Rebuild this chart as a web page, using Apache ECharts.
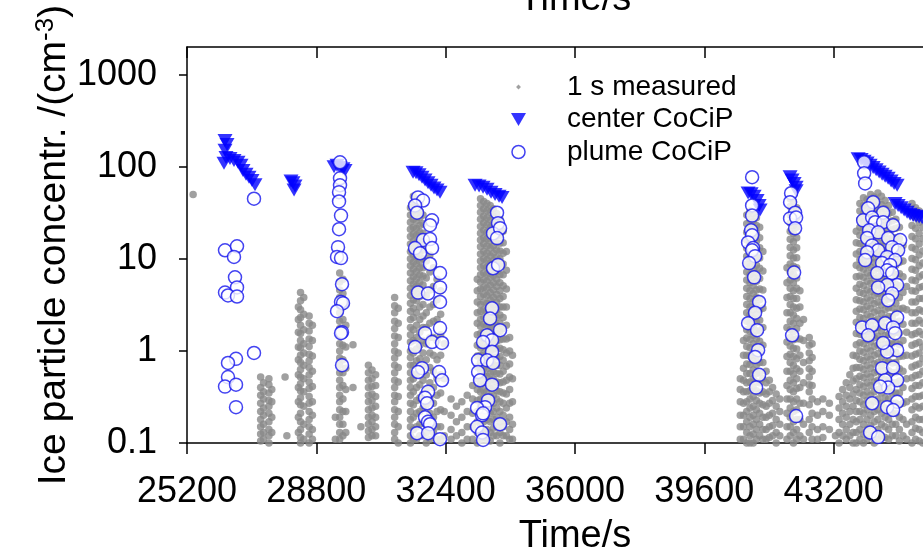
<!DOCTYPE html>
<html>
<head>
<meta charset="utf-8">
<script src="https://cdn.jsdelivr.net/npm/echarts@6/dist/echarts.min.js"></script>
<style>
  html, body { margin: 0; padding: 0; background: #fff; }
  #chart { width: 923px; height: 555px; }
</style>
</head>
<body>
<div id="chart"></div>
<script>
// Axis ticks
const timeTicks = [25200, 28800, 32400, 36000, 39600, 43200, 46800];
const concTicks = [0.1, 1, 10, 100, 1000];
const concMax = 2000;

const seriesNames = ['1 s measured', 'center CoCiP', 'plume CoCiP'];

// 1 s measured ice particle concentration, one row per time bin: [time, value, value, ...]
const measuredSeg1 = [
  [25370, 50],
  [27250, 0.52, 0.4, 0.33, 0.27, 0.22, 0.18, 0.15, 0.125, 0.105],
  [27330, 0.45, 0.36, 0.3, 0.24, 0.2, 0.16, 0.13, 0.11],
  [27480, 0.5, 0.43, 0.35, 0.29, 0.25, 0.21, 0.17, 0.14, 0.12, 0.1],
  [27560, 0.38, 0.28, 0.19, 0.13],
  [27930, 0.52],
  [27980, 0.12],
  [28300, 3.0, 2.2, 1.6, 1.1, 0.8, 0.55, 0.4, 0.28, 0.19, 0.13],
  [28360, 4.3, 3.5, 2.8, 2.3, 1.9, 1.55, 1.3, 1.08, 0.9, 0.75, 0.63, 0.52, 0.44, 0.37, 0.31, 0.26, 0.21, 0.17, 0.14, 0.115, 0.1],
  [28450, 3.8, 2.5, 1.7, 1.2, 0.95, 0.7, 0.5, 0.36, 0.25, 0.16, 0.11],
  [28600, 2.4, 2.0, 1.65, 1.35, 1.12, 0.92, 0.78, 0.66, 0.55, 0.46, 0.39, 0.32, 0.27, 0.22, 0.18, 0.15, 0.125, 0.1],
  [28690, 1.9, 1.3, 0.88, 0.6, 0.41, 0.28, 0.2, 0.14, 0.11],
  [29330, 0.19, 0.11],
  [29450, 7.0, 5.6, 4.6, 3.8, 3.1, 2.6, 2.1, 1.75, 1.45, 1.2, 1.0, 0.84, 0.7, 0.58, 0.48, 0.4, 0.33, 0.28, 0.23, 0.19, 0.16, 0.13, 0.11],
  [29540, 6.0, 4.2, 3.0, 2.2, 1.6, 1.15, 0.8, 0.58, 0.42, 0.3, 0.22, 0.16, 0.12],
  [29620, 3.3, 1.9, 1.1, 0.65, 0.38, 0.22, 0.13],
  [29820, 1.17, 0.4],
  [30040, 0.15],
  [30250, 0.7, 0.58, 0.48, 0.4, 0.33, 0.28, 0.23, 0.19, 0.16, 0.135, 0.115],
  [30350, 0.62, 0.5, 0.41, 0.34, 0.29, 0.24, 0.2, 0.17, 0.14, 0.12],
  [30450, 0.55, 0.42, 0.32, 0.25, 0.19, 0.15, 0.12],
  [30980, 3.8, 3.1, 2.6, 2.1, 1.75, 1.45, 1.2, 1.0, 0.84, 0.7, 0.58, 0.48, 0.4, 0.33, 0.28, 0.23, 0.19, 0.16, 0.13, 0.11],
  [31080, 2.9, 2.0, 1.4, 0.95, 0.66, 0.46, 0.32, 0.22, 0.15, 0.1]
];

const measuredSeg2 = [
  [31420, 36, 30, 25, 21, 17.5, 14.5, 12, 10, 8.4, 7, 5.8, 4.8, 4.0, 3.3, 2.7, 2.2, 1.8, 1.5, 1.25, 1.0, 0.85, 0.7, 0.58, 0.48, 0.4, 0.33, 0.27, 0.22, 0.18, 0.15, 0.12, 0.1],
  [31500, 48, 40, 33, 27, 22, 18.5, 15.5, 13, 11, 9.2, 7.7, 6.4, 5.3, 4.4, 3.6, 2.9, 2.3, 1.7, 1.3, 0.95, 0.7, 0.5, 0.36, 0.26, 0.19, 0.14, 0.11],
  [31590, 44, 37, 31, 26, 21.5, 18, 15, 12.5, 10.5, 8.8, 7.3, 6.1, 5.1, 4.2, 3.5, 2.6, 1.9, 1.4, 1.05, 0.78, 0.56, 0.4, 0.29, 0.21, 0.15, 0.11],
  [31680, 40, 33, 28, 23, 19.5, 16, 13.5, 11.3, 9.5, 8, 6.7, 5.6, 4.7, 3.9, 3.0, 2.2, 1.6, 1.15, 0.82, 0.6, 0.43, 0.31, 0.22, 0.16, 0.12],
  [31770, 30, 24, 19, 15.5, 12.5, 10, 8, 6.5, 5.2, 4.1, 3.2, 2.4, 1.8, 1.3, 0.95, 0.68, 0.48, 0.34, 0.24, 0.17, 0.12],
  [31860, 15, 9.5, 6.2, 4.0, 2.6, 1.8, 1.2, 0.8, 0.55, 0.38, 0.26, 0.18, 0.13, 0.1],
  [31960, 11, 7.2, 4.6, 3.0, 2.0, 1.4, 0.95, 0.66, 0.45, 0.31, 0.21, 0.15, 0.11],
  [32060, 8, 5, 3.2, 2.1, 1.4, 0.9, 0.6, 0.4, 0.27, 0.19, 0.13],
  [32160, 6, 3.6, 2.2, 1.3, 0.8, 0.5, 0.33, 0.22, 0.15, 0.11],
  [32260, 4.5, 2.5, 1.5, 0.9, 0.55, 0.35, 0.23, 0.15, 0.11],
  [32360, 1.2, 0.5, 0.22, 0.12],
  [32550, 0.3, 0.2, 0.14, 0.11],
  [32700, 0.25, 0.17, 0.12],
  [32850, 0.28, 0.19, 0.13, 0.1],
  [33000, 0.33, 0.22, 0.15, 0.11],
  [33150, 0.42, 0.3, 0.21, 0.15, 0.11],
  [33280, 6, 4.5, 3.4, 2.6, 2.0, 1.5, 1.15, 0.88, 0.67, 0.5, 0.38, 0.29, 0.22, 0.17, 0.13, 0.1],
  [33370, 45, 38, 32, 27, 22.5, 19, 16, 13.5, 11.3, 9.5, 8, 6.7, 5.6, 4.7, 3.9, 3.2, 2.7, 2.2, 1.85, 1.55, 1.3, 1.08, 0.9, 0.75, 0.62, 0.52, 0.43, 0.36, 0.3, 0.25, 0.2, 0.16, 0.13, 0.11],
  [33460, 42, 35, 29, 24.5, 20.5, 17, 14.5, 12, 10, 8.4, 7, 5.9, 4.9, 4.1, 3.4, 2.8, 2.35, 1.95, 1.6, 1.35, 1.12, 0.94, 0.78, 0.65, 0.54, 0.45, 0.37, 0.31, 0.26, 0.21, 0.17, 0.14, 0.115],
  [33550, 40, 33.5, 28, 23.5, 19.5, 16.5, 13.8, 11.5, 9.7, 8.1, 6.8, 5.7, 4.8, 4.0, 3.3, 2.75, 2.3, 1.9, 1.58, 1.32, 1.1, 0.92, 0.77, 0.64, 0.53, 0.44, 0.36, 0.29, 0.23, 0.18, 0.14, 0.11],
  [33640, 38, 32, 26.5, 22, 18.5, 15.5, 13, 10.8, 9, 7.5, 6.3, 5.2, 4.3, 3.6, 3.0, 2.5, 2.1, 1.75, 1.45, 1.2, 1.0, 0.83, 0.69, 0.57, 0.47, 0.39, 0.32, 0.26, 0.21, 0.17, 0.13, 0.105],
  [33730, 35, 29, 24, 20, 16.5, 13.8, 11.5, 9.6, 8, 6.6, 5.5, 4.6, 3.8, 3.15, 2.6, 2.15, 1.8, 1.5, 1.25, 1.04, 0.86, 0.71, 0.59, 0.49, 0.4, 0.33, 0.27, 0.22, 0.18, 0.145, 0.12],
  [33820, 31, 26, 21.5, 18, 15, 12.5, 10.4, 8.6, 7.2, 6, 5, 4.1, 3.4, 2.8, 2.3, 1.9, 1.55, 1.28, 1.05, 0.86, 0.7, 0.57, 0.46, 0.37, 0.3, 0.24, 0.19, 0.15, 0.12],
  [33910, 27, 22, 18, 14.8, 12.2, 10, 8.2, 6.7, 5.5, 4.5, 3.7, 3.0, 2.45, 2.0, 1.62, 1.32, 1.07, 0.87, 0.7, 0.56, 0.45, 0.36, 0.28, 0.22, 0.17, 0.13, 0.1],
  [34000, 20, 15, 11.5, 8.8, 6.7, 5.1, 3.9, 3.0, 2.3, 1.75, 1.35, 1.03, 0.79, 0.6, 0.46, 0.35, 0.27, 0.2, 0.15, 0.12],
  [34090, 12, 7.5, 4.7, 3.0, 1.9, 1.35, 0.95, 0.68, 0.48, 0.34, 0.24, 0.17, 0.12],
  [34180, 1.4, 1.0, 0.72, 0.52, 0.38, 0.27, 0.19, 0.14, 0.11],
  [34260, 0.9, 0.5, 0.28, 0.16, 0.11]
];

const measuredSeg3 = [
  [40600, 0.5, 0.38, 0.28, 0.2, 0.15, 0.11],
  [40690, 1.3, 0.9, 0.65, 0.48, 0.36, 0.27, 0.2, 0.15, 0.11],
  [40780, 30, 24, 19.5, 16, 13, 10.7, 8.8, 7.2, 5.9, 4.8, 3.9, 3.2, 2.6, 2.1, 1.7, 1.38, 1.12, 0.9, 0.72, 0.57, 0.45, 0.36, 0.28, 0.22, 0.17, 0.13, 0.1],
  [40870, 33, 27, 22, 18, 14.8, 12.2, 10, 8.2, 6.7, 5.5, 4.5, 3.7, 3.0, 2.45, 2.0, 1.63, 1.33, 1.08, 0.88, 0.71, 0.57, 0.46, 0.37, 0.3, 0.24, 0.19, 0.15, 0.12, 0.1],
  [40960, 31, 25.5, 21, 17.2, 14, 11.5, 9.4, 7.7, 6.3, 5.1, 4.2, 3.4, 2.8, 2.25, 1.83, 1.48, 1.2, 0.97, 0.78, 0.62, 0.5, 0.4, 0.32, 0.25, 0.2, 0.16, 0.125, 0.1],
  [41050, 28, 23, 19, 15.5, 12.7, 10.4, 8.5, 7, 5.7, 4.6, 3.8, 3.1, 2.5, 2.05, 1.66, 1.35, 1.1, 0.88, 0.71, 0.57, 0.46, 0.37, 0.29, 0.23, 0.18, 0.14, 0.11],
  [41140, 22, 17, 13.2, 10.2, 7.9, 6.1, 4.7, 3.6, 2.8, 2.15, 1.65, 1.27, 0.97, 0.75, 0.58, 0.45, 0.35, 0.27, 0.21, 0.16, 0.12],
  [41230, 12, 7.4, 4.6, 2.9, 1.8, 1.15, 0.75, 0.5, 0.36, 0.26, 0.19, 0.14, 0.11],
  [41320, 0.6, 0.45, 0.34, 0.25, 0.19, 0.14, 0.11],
  [41410, 0.48, 0.36, 0.27, 0.2, 0.15, 0.115],
  [41500, 0.4, 0.29, 0.21, 0.155, 0.12],
  [41600, 0.34, 0.25, 0.18, 0.13, 0.1],
  [41700, 0.3, 0.22, 0.16, 0.12],
  [41900, 8, 5.5, 3.8, 2.6, 1.8, 1.25, 0.87, 0.6, 0.42, 0.3, 0.21, 0.15, 0.11],
  [41990, 45, 37, 30, 24.5, 20, 16.3, 13.3, 10.8, 8.8, 7.2, 5.9, 4.8, 3.9, 3.2, 2.6, 2.1, 1.7, 1.4, 1.13, 0.92, 0.75, 0.6, 0.48, 0.38, 0.3, 0.24, 0.19, 0.15, 0.12],
  [42080, 42, 34, 28, 23, 18.8, 15.3, 12.5, 10.2, 8.3, 6.8, 5.5, 4.5, 3.7, 3.0, 2.45, 2.0, 1.62, 1.32, 1.07, 0.87, 0.7, 0.56, 0.45, 0.36, 0.28, 0.22, 0.17, 0.13, 0.1],
  [42170, 36, 28, 22, 17, 13.2, 10.3, 8, 6.2, 4.8, 3.7, 2.9, 2.25, 1.75, 1.36, 1.05, 0.82, 0.64, 0.5, 0.39, 0.3, 0.23, 0.18, 0.14, 0.11],
  [42260, 4.5, 3.0, 2.0, 1.35, 0.9, 0.6, 0.4, 0.27, 0.18, 0.12],
  [42360, 2.2, 1.3, 0.75, 0.45, 0.27, 0.16, 0.11],
  [42520, 1.4, 1.15, 0.95, 0.78, 0.64, 0.52, 0.43, 0.36, 0.26, 0.18, 0.13],
  [42600, 1.2, 0.85, 0.6, 0.42, 0.3, 0.21, 0.15, 0.11],
  [42750, 0.28, 0.2, 0.14, 0.11],
  [42900, 0.3, 0.22, 0.15, 0.115],
  [43080, 0.27, 0.2, 0.14],
  [43250, 0.12],
  [43350, 0.32, 0.24, 0.18, 0.13, 0.1],
  [43450, 0.38, 0.28, 0.21, 0.16, 0.12],
  [43550, 0.45, 0.33, 0.25, 0.19, 0.14, 0.11],
  [43650, 0.55, 0.4, 0.3, 0.22, 0.16, 0.12],
  [43740, 0.9, 0.65, 0.47, 0.34, 0.25, 0.18, 0.13, 0.1]
];

const measuredSeg4 = [
  [43830, 20, 15, 11.3, 8.5, 6.4, 4.8, 3.6, 2.7, 2.05, 1.55, 1.17, 0.88, 0.66, 0.5, 0.38, 0.29, 0.22, 0.17, 0.13, 0.1],
  [43930, 40, 33, 27, 22, 18, 14.7, 12, 9.8, 8, 6.5, 5.3, 4.3, 3.5, 2.85, 2.3, 1.87, 1.52, 1.23, 1.0, 0.81, 0.66, 0.53, 0.43, 0.35, 0.28, 0.22, 0.18, 0.14, 0.11],
  [44030, 46, 38, 31, 25.5, 21, 17.2, 14.1, 11.5, 9.4, 7.7, 6.3, 5.1, 4.2, 3.4, 2.8, 2.25, 1.83, 1.48, 1.2, 0.97, 0.78, 0.63, 0.51, 0.41, 0.33, 0.26, 0.21, 0.16, 0.125, 0.1],
  [44130, 44, 36, 29.5, 24, 19.6, 16, 13, 10.6, 8.6, 7, 5.7, 4.6, 3.75, 3.05, 2.48, 2.0, 1.63, 1.32, 1.07, 0.86, 0.7, 0.56, 0.45, 0.36, 0.29, 0.23, 0.18, 0.14, 0.11],
  [44230, 50, 41, 33.5, 27.5, 22.5, 18.4, 15, 12.2, 10, 8.1, 6.6, 5.4, 4.4, 3.55, 2.9, 2.35, 1.9, 1.54, 1.25, 1.0, 0.81, 0.65, 0.52, 0.42, 0.33, 0.26, 0.2, 0.155, 0.12],
  [44330, 47, 38.5, 31.5, 25.7, 21, 17, 13.9, 11.3, 9.2, 7.5, 6.1, 4.95, 4.0, 3.25, 2.63, 2.13, 1.72, 1.39, 1.12, 0.9, 0.72, 0.58, 0.46, 0.36, 0.28, 0.22, 0.17, 0.13, 0.1],
  [44430, 52, 42, 34, 27.6, 22.4, 18.2, 14.8, 12, 9.7, 7.9, 6.4, 5.2, 4.2, 3.4, 2.75, 2.22, 1.8, 1.45, 1.17, 0.94, 0.75, 0.6, 0.48, 0.38, 0.3, 0.23, 0.18, 0.14, 0.11],
  [44530, 48, 39, 31.8, 25.8, 21, 17, 13.8, 11.2, 9.1, 7.4, 6.0, 4.85, 3.9, 3.15, 2.55, 2.05, 1.65, 1.33, 1.07, 0.86, 0.69, 0.55, 0.44, 0.35, 0.27, 0.21, 0.16, 0.12],
  [44630, 43, 35, 28.5, 23, 18.7, 15.2, 12.3, 10, 8.1, 6.6, 5.35, 4.3, 3.5, 2.8, 2.27, 1.83, 1.47, 1.18, 0.95, 0.76, 0.61, 0.49, 0.39, 0.31, 0.24, 0.19, 0.15, 0.115],
  [44730, 38, 31, 25, 20.3, 16.4, 13.3, 10.7, 8.7, 7, 5.65, 4.55, 3.66, 2.95, 2.37, 1.9, 1.52, 1.22, 0.97, 0.77, 0.61, 0.48, 0.38, 0.3, 0.23, 0.18, 0.14, 0.11],
  [44830, 32, 26, 21, 17, 13.6, 11, 8.8, 7.1, 5.7, 4.6, 3.7, 2.95, 2.35, 1.88, 1.5, 1.19, 0.94, 0.74, 0.58, 0.45, 0.35, 0.27, 0.21, 0.16, 0.12],
  [44930, 27, 21.5, 17, 13.5, 10.7, 8.5, 6.7, 5.3, 4.2, 3.3, 2.6, 2.05, 1.6, 1.25, 0.97, 0.75, 0.58, 0.45, 0.35, 0.27, 0.21, 0.16, 0.12],
  [45030, 22, 16.5, 12.3, 9.2, 6.9, 5.1, 3.8, 2.85, 2.1, 1.57, 1.17, 0.87, 0.64, 0.47, 0.35, 0.26, 0.19, 0.14, 0.105],
  [45130, 14, 9.5, 6.4, 4.3, 2.9, 1.95, 1.3, 0.88, 0.6, 0.4, 0.27, 0.18, 0.12],
  [45230, 5, 2.8, 1.6, 0.9, 0.5, 0.28, 0.16, 0.11],
  [45380, 40, 30, 23, 17.5, 13.3, 10.1, 7.7, 5.9, 4.5, 3.4, 2.6, 2.0, 1.5, 1.15, 0.88, 0.67, 0.51, 0.39, 0.3, 0.23, 0.17, 0.13, 0.1],
  [45480, 36, 28, 21.5, 16.5, 12.7, 9.8, 7.5, 5.8, 4.45, 3.4, 2.6, 2.0, 1.55, 1.2, 0.92, 0.7, 0.54, 0.42, 0.32, 0.25, 0.19, 0.145, 0.11],
  [45580, 33, 25, 19, 14.5, 11, 8.4, 6.4, 4.9, 3.7, 2.8, 2.15, 1.63, 1.24, 0.95, 0.72, 0.55, 0.42, 0.32, 0.24, 0.18, 0.14, 0.105],
  [45680, 30, 22, 16.5, 12.2, 9, 6.7, 5, 3.7, 2.7, 2.0, 1.5, 1.1, 0.82, 0.6, 0.45, 0.33, 0.25, 0.18, 0.13, 0.1]
];

// CoCiP contrail centre concentration: [time, value]
const centerCoCiP = [
  [26258, 193], [26314, 175], [26258, 151], [26286, 126], [26230, 109], [26397, 123], [26508, 117],
  [26620, 112], [26703, 104], [26759, 91], [26843, 83], [26926, 77], [27010, 71], [27093, 64],
  [28095, 70], [28150, 67], [28207, 62], [28180, 56],
  [29293, 100], [29376, 104], [29459, 98], [29543, 95], [29599, 91],
  [31492, 87], [31575, 86], [31659, 82], [31742, 77], [31826, 72], [31909, 67], [31993, 63],
  [32076, 59], [32160, 56], [32243, 53],
  [33218, 63], [33330, 62], [33441, 60], [33552, 57], [33663, 53], [33775, 50], [33886, 48], [33970, 46.5],
  [40818, 52], [40902, 51], [40986, 48], [41069, 43], [41125, 38], [41152, 34],
  [41987, 78], [42043, 72], [42099, 66], [42155, 60], [42155, 55],
  [43881, 122], [43964, 120], [44048, 115], [44131, 110], [44215, 104], [44299, 98], [44382, 93],
  [44466, 88], [44549, 83], [44633, 79], [44716, 75], [44800, 70], [44883, 66], [44967, 63],
  [44911, 40], [44994, 38], [45078, 36], [45162, 34], [45245, 32], [45329, 30.5], [45412, 29.5],
  [45496, 29], [45579, 28.5], [45663, 28]
];

// CoCiP plume concentration: [time, value]
const plumeCoCiP = [
  [27065, 45], [26258, 12.4], [26592, 13.7], [26508, 10.5], [26536, 6.3], [26258, 4.3], [26592, 4.9],
  [26341, 4.0], [26592, 3.9], [26564, 0.82], [26341, 0.74], [27065, 0.95], [26341, 0.52], [26258, 0.41],
  [26564, 0.43], [26564, 0.245],
  [29459, 112], [29459, 75], [29459, 63], [29432, 53], [29432, 42], [29487, 29.5], [29432, 21],
  [29404, 13.4], [29376, 10.5], [29487, 10.2], [29515, 5.3], [29487, 3.4], [29543, 3.3], [29376, 2.7],
  [29515, 1.6], [29487, 1.56], [29515, 0.7],
  [31631, 46.5], [31770, 43], [31548, 38], [31603, 31.7], [32021, 26.2], [31965, 23.2], [31770, 16],
  [31965, 16.4], [32021, 13.1], [31548, 13.1], [31687, 11.5], [31965, 8.8], [32243, 7.0], [32243, 4.9],
  [31631, 4.3], [31909, 4.2], [32243, 3.4], [32243, 1.77], [31826, 1.56], [32021, 1.25], [32299, 1.22],
  [31548, 1.1], [31743, 0.65], [31631, 0.59], [32216, 0.59], [32299, 0.48], [31909, 0.36], [31826, 0.31],
  [31882, 0.27], [31826, 0.19], [31909, 0.17], [31965, 0.16], [31603, 0.128], [31909, 0.128], [32243, 0.11],
  [33830, 31.7], [33858, 24.4], [33719, 18.9], [33914, 21.5], [33830, 16.8], [33719, 7.9], [33858, 8.6],
  [33691, 2.9], [33636, 2.25], [33914, 1.68], [33552, 1.48], [33691, 1.31], [33441, 1.25], [33691, 0.98],
  [33302, 0.79], [33552, 0.79], [33719, 0.74], [33302, 0.59], [33357, 0.48], [33691, 0.43], [33580, 0.29],
  [33496, 0.245], [33274, 0.24], [33413, 0.2], [33914, 0.16], [33274, 0.15], [33413, 0.13], [33441, 0.108],
  [33441, 0.21],
  [40930, 77], [40930, 38], [40930, 29.5], [40902, 20.4], [40930, 18], [40818, 15.1], [40958, 13.1],
  [40930, 12.4], [41013, 10.7], [40846, 9.0], [40986, 6.3], [41125, 3.4], [41013, 2.6], [40818, 2.0],
  [41069, 1.68], [41097, 1.02], [41013, 0.86], [41125, 0.55], [41041, 0.4],
  [42015, 51.6], [41987, 41.2], [42127, 31.7], [41987, 27.5], [42155, 28.1], [42127, 21.5], [42099, 7.1],
  [42043, 1.48], [42155, 0.196],
  [44048, 112], [44048, 85], [44076, 66], [44299, 41.2], [44159, 35.4], [44577, 31.7], [44020, 26.2],
  [44271, 28.1], [44354, 25], [44577, 25], [44855, 23.2], [44187, 20.4], [44438, 19.4], [44131, 16.8],
  [44716, 16.8], [45051, 16], [44271, 14], [44828, 13.4], [44438, 12.4], [44131, 11.8], [44994, 12.4],
  [44076, 9.7], [44688, 10.5], [44911, 9.7], [44549, 9.0], [44772, 8.6], [44688, 7.5], [44410, 7.0],
  [44828, 7.0], [44967, 5.2], [44688, 5.2], [44438, 4.9], [44828, 4.2], [44716, 3.56], [43992, 1.8],
  [44271, 1.9], [44159, 1.48], [44633, 2.0], [44967, 2.3], [44855, 1.8], [44911, 1.56], [44967, 1.02],
  [44688, 0.98], [44577, 1.22], [44549, 0.65], [44855, 0.66], [44967, 0.48], [44633, 0.48], [44716, 0.4],
  [44494, 0.41], [44967, 0.28], [44271, 0.27], [44688, 0.245], [44855, 0.228], [44215, 0.13], [44438, 0.116]
];

// Expand [time, v1, v2, ...] rows into [time, value] pairs
function expandRows(rows) {
  const out = [];
  rows.forEach(function (row) {
    for (let i = 1; i < row.length; i++) out.push([row[0], row[i]]);
  });
  return out;
}
const measured = expandRows(measuredSeg1)
  .concat(expandRows(measuredSeg2))
  .concat(expandRows(measuredSeg3))
  .concat(expandRows(measuredSeg4));

const FONT = '"Liberation Sans", Arial, Helvetica, sans-serif';
const BLACK = '#000';
const timeStep = timeTicks[1] - timeTicks[0];
const plainNumber = function (v) { return String(v); };

const chart = echarts.init(document.getElementById('chart'), null, { renderer: 'canvas' });

chart.setOption({
  animation: false,
  backgroundColor: '#fff',
  textStyle: { fontFamily: FONT },
  grid: { left: 187, top: 47, width: 776, height: 396, containLabel: false, outerBoundsMode: 'none' },
  legend: {
    orient: 'vertical',
    left: 506,
    top: 68,
    itemWidth: 15,
    itemHeight: 13,
    itemGap: 4.5,
    selectedMode: false,
    textStyle: { fontSize: 28, color: BLACK, fontFamily: FONT, padding: [0, 0, 0, 36] },
    data: [
      { name: seriesNames[0], icon: 'path://M0,0M16,16M5,8L8,5L11,8L8,11Z', itemStyle: { color: '#888888' } },
      { name: seriesNames[1], icon: 'path://M0,0L15,0L7.5,13Z', itemStyle: { color: '#0000ff' } },
      { name: seriesNames[2], itemStyle: { color: '#fff', borderColor: '#1414ee', borderWidth: 1.5 } }
    ]
  },
  xAxis: [
    {
      type: 'value',
      position: 'bottom',
      min: timeTicks[0],
      max: timeTicks[timeTicks.length - 1],
      interval: timeStep,
      name: 'Time/s',
      nameLocation: 'middle',
      nameGap: 75,
      nameMoveOverlap: false,
      nameTextStyle: { fontSize: 38, color: BLACK, fontFamily: FONT },
      axisLine: { onZero: false, lineStyle: { color: BLACK, width: 1.5 } },
      axisTick: { length: 11, lineStyle: { color: BLACK, width: 1.5 } },
      axisLabel: { fontSize: 36, color: BLACK, margin: 31, fontFamily: FONT, formatter: plainNumber, showMaxLabel: false },
      splitLine: { show: false }
    },
    {
      type: 'value',
      position: 'top',
      min: timeTicks[0],
      max: timeTicks[timeTicks.length - 1],
      interval: timeStep,
      name: 'Time/s',
      nameLocation: 'middle',
      nameGap: 28,
      nameTextStyle: { fontSize: 38, color: BLACK, fontFamily: FONT },
      axisLine: { onZero: false, lineStyle: { color: BLACK, width: 1.5 } },
      axisTick: { inside: true, length: 11, lineStyle: { color: BLACK, width: 1.5 } },
      axisLabel: { show: false },
      splitLine: { show: false }
    }
  ],
  yAxis: {
    type: 'log',
    logBase: 10,
    min: concTicks[0],
    max: concMax,
    name: '{m|Ice particle concentr. /(cm}{s|-3}{m|)}',
    nameLocation: 'middle',
    nameRotate: 90,
    nameGap: 113,
    nameMoveOverlap: false,
    nameTextStyle: {
      rich: {
        m: { fontSize: 39, lineHeight: 41, color: BLACK, fontFamily: FONT, verticalAlign: 'bottom' },
        s: { fontSize: 26, lineHeight: 26, color: BLACK, fontFamily: FONT, verticalAlign: 'top', padding: [0, 0, 27, 0] }
      }
    },
    axisLine: { show: true, onZero: false, lineStyle: { color: BLACK, width: 1.5 } },
    axisTick: { show: true, length: 8, customValues: concTicks, lineStyle: { color: BLACK, width: 1.5 } },
    axisLabel: {
      fontSize: 36, color: BLACK, margin: 30, fontFamily: FONT,
      customValues: concTicks,
      formatter: plainNumber
    },
    splitLine: { show: false },
    minorTick: { show: false }
  },
  series: [
    {
      name: seriesNames[0],
      type: 'scatter',
      xAxisIndex: 0,
      data: measured,
      symbol: 'circle',
      symbolSize: 7.5,
      itemStyle: { color: '#888888' },
      z: 2
    },
    {
      name: seriesNames[1],
      type: 'scatter',
      xAxisIndex: 0,
      data: centerCoCiP,
      symbol: 'triangle',
      symbolRotate: 180,
      symbolSize: [15, 13],
      itemStyle: { color: '#0000ff' },
      z: 3
    },
    {
      name: seriesNames[2],
      type: 'scatter',
      xAxisIndex: 0,
      data: plumeCoCiP,
      symbol: 'circle',
      symbolSize: 13,
      itemStyle: { color: '#ffffff', borderColor: '#1414ee', borderWidth: 1.5 },
      z: 4
    }
  ]
});
</script>
</body>
</html>
